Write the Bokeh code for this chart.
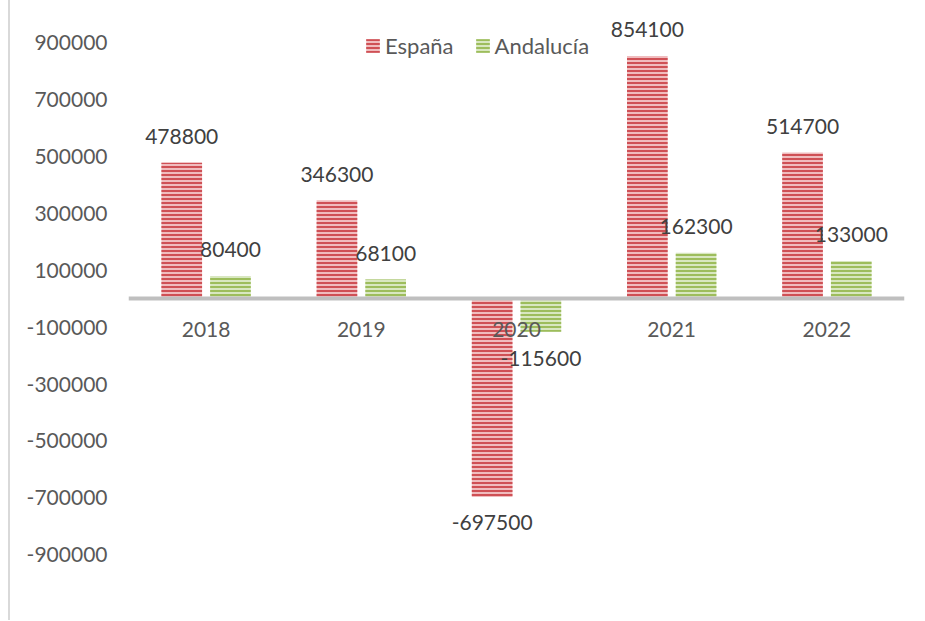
from bokeh.plotting import figure
from bokeh.models import (ColumnDataSource, FactorRange, Range1d, FixedTicker,
                          Legend, LegendItem, PrintfTickFormatter)
from bokeh.transform import dodge
from bokeh.core.properties import value
from bokeh.embed import file_html
from bokeh.resources import INLINE

years = ["2018", "2019", "2020", "2021", "2022"]
espana = [478800, 346300, -697500, 854100, 514700]
andalucia = [80400, 68100, -115600, 162300, 133000]
y_ticks = [900000, 700000, 500000, 300000, 100000, -100000, -300000,
           -500000, -700000, -900000]

FONT = "Lato"
TXT = "#595959"

src = ColumnDataSource(dict(
    year=years,
    esp=espana,
    and_=andalucia,
    esp_lbl=[str(v) for v in espana],
    and_lbl=[str(v) for v in andalucia],
    esp_off=[-26 if v >= 0 else 25 for v in espana],
    and_off=[-26 if v >= 0 else 27 for v in andalucia],
))

p = figure(width=903, height=620, x_range=FactorRange(*years),
           y_range=Range1d(-1100000, 1000000),
           output_backend="svg", toolbar_location=None,
           min_border_left=118, min_border_right=9,
           min_border_top=14, min_border_bottom=9)
p.styles = {"margin-left": "8px", "border-left": "2px solid #d9d9d9"}
p.outline_line_color = None
p.xgrid.grid_line_color = None
p.ygrid.grid_line_color = None
p.background_fill_color = "white"
p.border_fill_color = "white"

r_esp = p.vbar(x=dodge("year", -0.157, range=p.x_range), top="esp", width=0.262,
               source=src, fill_color="#f0bcbe", line_color=None,
               hatch_pattern="horizontal_line", hatch_color="#cf5055",
               hatch_scale=4, hatch_weight=2)
r_and = p.vbar(x=dodge("year", 0.157, range=p.x_range), top="and_", width=0.262,
               source=src, fill_color="#d8e7c0", line_color=None,
               hatch_pattern="horizontal_line", hatch_color="#9dbd5c",
               hatch_scale=4, hatch_weight=2)

p.text(x=dodge("year", -0.157, range=p.x_range), y="esp", text="esp_lbl",
       y_offset="esp_off", source=src, text_align="center",
       text_baseline="middle", text_font=value(FONT),
       text_font_size="21px", text_color="#404040")
p.text(x=dodge("year", 0.157, range=p.x_range), y="and_", text="and_lbl",
       y_offset="and_off", source=src, text_align="center",
       text_baseline="middle", text_font=value(FONT),
       text_font_size="21px", text_color="#404040")

# x axis at zero
xa = p.xaxis[0]
xa.fixed_location = 0
xa.axis_line_color = "#bfbfbf"
xa.axis_line_width = 4
xa.major_tick_line_color = None
xa.minor_tick_line_color = None
xa.major_label_text_font = FONT
xa.major_label_text_font_size = "21px"
xa.major_label_text_color = TXT
xa.major_label_standoff = 17

ya = p.yaxis[0]
ya.ticker = FixedTicker(ticks=y_ticks)
ya.formatter = PrintfTickFormatter(format="%d")
ya.axis_line_color = None
ya.major_tick_line_color = None
ya.minor_tick_line_color = None
ya.major_tick_in = 0
ya.major_tick_out = 0
ya.major_label_text_font = FONT
ya.major_label_text_font_size = "21px"
ya.major_label_text_color = TXT
ya.major_label_standoff = 21

legend = Legend(items=[LegendItem(label="España", renderers=[r_esp]),
                       LegendItem(label="Andalucía", renderers=[r_and])],
                orientation="horizontal", location=(236, 552),
                glyph_width=17, glyph_height=17, label_standoff=4, spacing=20,
                padding=0, margin=0, border_line_color=None,
                background_fill_alpha=0,
                label_text_font=FONT, label_text_font_size="22px",
                label_text_color=TXT)
p.add_layout(legend, "center")

open("out.html", "w").write(file_html(p, INLINE))
